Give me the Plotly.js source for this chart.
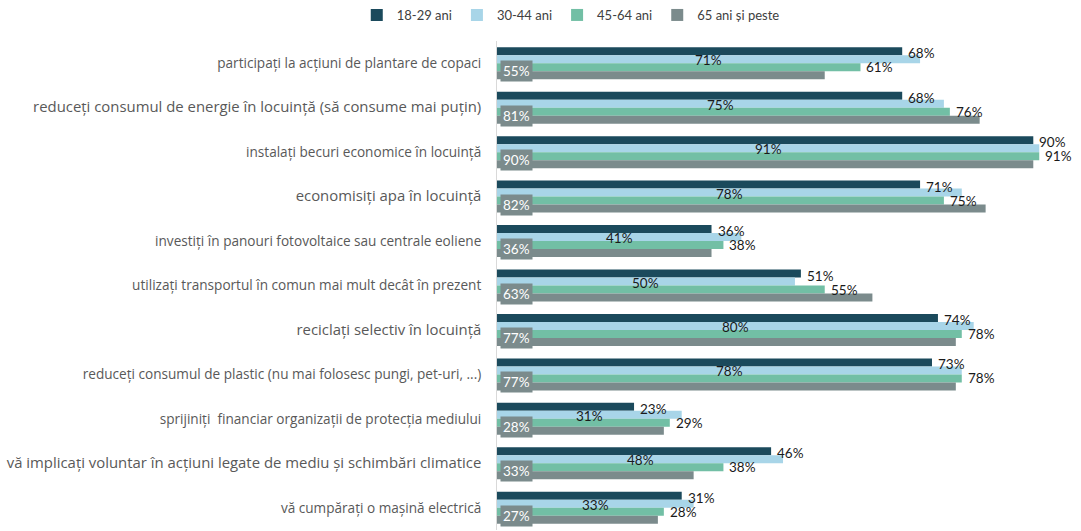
<!DOCTYPE html>
<html>
<head>
<meta charset="utf-8">
<script src="https://cdn.plot.ly/plotly-3.0.1.min.js"></script>
<style>html,body{margin:0;padding:0;background:#fff;}</style>
</head>
<body>
<div id="chart" style="width:1081px;height:531px;"></div>
<script>
const categories = [
  "participați la acțiuni de plantare de copaci",
  "reduceți consumul de energie în locuință (să consume mai puțin)",
  "instalați becuri economice în locuință",
  "economisiți apa în locuință",
  "investiți în panouri fotovoltaice sau centrale eoliene",
  "utilizați transportul în comun mai mult decât în prezent",
  "reciclați selectiv în locuință",
  "reduceți consumul de plastic (nu mai folosesc pungi, pet-uri, ...)",
  "sprijiniți  financiar organizații de protecția mediului",
  "vă implicați voluntar în acțiuni legate de mediu și schimbări climatice",
  "vă cumpărați o mașină electrică"
];
const largeLabel = [false, true, false, true, false, false, true, false, false, true, false];
const seriesNames = ["18-29 ani", "30-44 ani", "45-64 ani", "65 ani și peste"];
const v18_29 = [68, 68, 90, 71, 36, 51, 74, 73, 23, 46, 31];
const v30_44 = [71, 75, 91, 78, 41, 50, 80, 78, 31, 48, 33];
const v45_64 = [61, 76, 91, 75, 38, 55, 78, 78, 29, 38, 28];
const v65plus = [55, 81, 90, 82, 36, 63, 77, 77, 28, 33, 27];
const colors = ["#1B4A5C", "#A8D5E8", "#72BFA5", "#7B8B8C"];

const allSeries = [v18_29, v30_44, v45_64, v65plus];
const fontFam = "Lato, 'Open Sans', sans-serif";
const tickFam = "'Open Sans', Lato, sans-serif";

const traces = allSeries.map((vals, s) => ({
  type: "bar",
  orientation: "h",
  name: seriesNames[s],
  x: vals,
  y: categories,
  marker: {color: colors[s], line: {width: 0}},
  hoverinfo: "skip"
}));

const ticktext = categories.map((c, i) =>
  largeLabel[i] ? '<span style="font-size:14.9px">' + c + '</span>' : c);

const annotations = [];
categories.forEach((c, i) => {
  annotations.push({x: v18_29[i], y: c, xref: "x", yref: "y", text: v18_29[i] + "%",
    showarrow: false, xanchor: "left", xshift: 4, yshift: 10,
    font: {family: fontFam, size: 13.5, color: "#1a1a1a"}});
  annotations.push({x: v30_44[i] / 2, y: c, xref: "x", yref: "y", text: v30_44[i] + "%",
    showarrow: false, xanchor: "center", yshift: 3,
    font: {family: fontFam, size: 13.5, color: "#1a1a1a"}});
  annotations.push({x: v45_64[i], y: c, xref: "x", yref: "y", text: v45_64[i] + "%",
    showarrow: false, xanchor: "left", xshift: 4, yshift: -4,
    font: {family: fontFam, size: 13.5, color: "#1a1a1a"}});
  annotations.push({x: 0, y: c, xref: "x", yref: "y", text: v65plus[i] + "%",
    showarrow: false, xanchor: "left", xshift: 3, yshift: -8,
    bgcolor: colors[3], borderpad: 2,
    font: {family: fontFam, size: 13.5, color: "#ffffff"}});
});

const layout = {
  width: 1081, height: 531,
  margin: {l: 497, r: 6, t: 41, b: 1},
  paper_bgcolor: "#fff", plot_bgcolor: "#fff",
  barmode: "group",
  bargap: 0.28, bargroupgap: 0,
  font: {family: fontFam, color: "#595959", size: 12},
  showlegend: true,
  legend: {
    orientation: "h", xref: "container", yref: "container",
    x: 0.528, xanchor: "center", y: 1, yanchor: "top",
    font: {family: fontFam, size: 13, color: "#404040"},
    itemwidth: 30, traceorder: "normal"
  },
  xaxis: {range: [0, 97], showgrid: false, zeroline: false, showticklabels: false,
    showline: false, ticks: "", fixedrange: true},
  yaxis: {autorange: "reversed", type: "category", tickmode: "array",
    tickvals: categories, ticktext: ticktext, ticks: "", showgrid: false,
    showline: true, linecolor: "#D9D9D9", linewidth: 1, zeroline: false,
    ticklabelstandoff: 12, tickfont: {family: tickFam, size: 13.6, color: "#595959"},
    fixedrange: true},
  annotations: annotations
};

Plotly.newPlot("chart", traces, layout, {displayModeBar: false, staticPlot: true});
</script>
</body>
</html>
